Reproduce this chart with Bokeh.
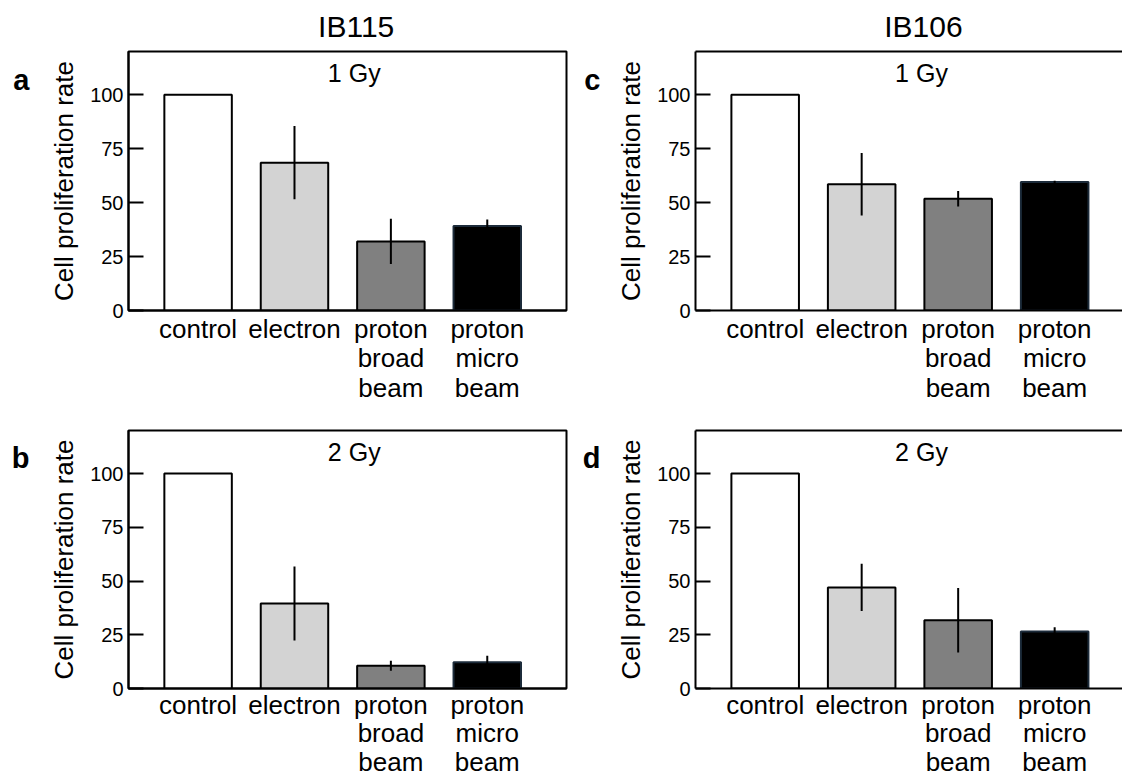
from bokeh.plotting import figure
from bokeh.models import Range1d, FixedTicker, LinearAxis, Label, ColumnDataSource
from bokeh.layouts import column, row
from bokeh.embed import file_html
from bokeh.resources import INLINE

# ---- data ----
positions = [1, 2, 3, 4]
categories = ["control", "electron", "proton\nbroad\nbeam", "proton\nmicro\nbeam"]
bar_colors = ["#ffffff", "#d3d3d3", "#808080", "#000000"]
bar_edges = ["#000000", "#000000", "#000000", "#1c2b3a"]
y_ticks = [0, 25, 50, 75, 100]

ib115_1gy = [100, 68.5, 32.0, 39.2]
ib115_1gy_err = [0, 17.0, 10.5, 3.0]
ib115_2gy = [100, 39.5, 10.6, 12.2]
ib115_2gy_err = [0, 17.2, 2.3, 3.0]
ib106_1gy = [100, 58.5, 51.8, 59.5]
ib106_1gy_err = [0, 14.5, 3.6, 0.6]
ib106_2gy = [100, 47.0, 31.8, 26.5]
ib106_2gy_err = [0, 11.0, 15.0, 2.0]

FONT = "Liberation Sans"
X0 = 0.278
X1_LEFT = 4.822
X1_RIGHT = 4.703
TITLE_X = 2.64
LETTER_Y = 107
DOSE_Y = 110.2


def bare_axis(**kw):
    ax = LinearAxis(major_tick_in=0, major_tick_out=0,
                    minor_tick_line_color=None, major_tick_line_color=None,
                    major_label_text_font=FONT, major_label_text_color="black",
                    **kw)
    return ax


def panel(vals, errs, dose, letter, title, is_left, is_top):
    p = figure(
        x_range=Range1d(X0, X1_LEFT if is_left else X1_RIGHT),
        y_range=Range1d(0, 120),
        frame_width=438 if is_left else 427,
        frame_height=259 if is_top else 258,
        min_border_left=128 if is_left else 120,
        min_border_right=9 if is_left else 0,
        min_border_top=51 if is_top else 24,
        min_border_bottom=96 if is_top else 90,
        output_backend="svg",
        toolbar_location=None,
    )
    p.xgrid.visible = False
    p.ygrid.visible = False
    if is_left:
        p.outline_line_color = "black"
        p.outline_line_width = 2
        p.outline_line_alpha = 1
    else:
        p.outline_line_color = None

    src = ColumnDataSource(dict(x=positions, top=vals, fill=bar_colors, edge=bar_edges))
    p.vbar(x="x", top="top", width=0.70, fill_color="fill", line_color="edge",
           line_width=2, source=src)

    ex = [x for x, e in zip(positions, errs) if e > 0]
    lo = [v - e for v, e in zip(vals, errs) if e > 0]
    hi = [v + e for v, e in zip(vals, errs) if e > 0]
    p.segment(x0=ex, y0=lo, x1=ex, y1=hi, line_color="black", line_width=2)

    ya = p.left[0]
    ya.ticker = FixedTicker(ticks=y_ticks)
    ya.major_tick_in = 15
    ya.major_tick_out = 0
    ya.major_tick_line_width = 2
    ya.major_tick_line_color = "black"
    ya.minor_tick_line_color = None
    ya.axis_line_width = 2
    ya.axis_line_color = "black"
    ya.major_label_text_font = FONT
    ya.major_label_text_font_size = "20px"
    ya.major_label_text_color = "black"
    ya.major_label_standoff = 5
    ya.axis_label = "Cell proliferation rate"
    ya.axis_label_text_font = FONT
    ya.axis_label_text_font_size = "26px"
    ya.axis_label_text_font_style = "normal"
    ya.axis_label_text_color = "black"
    ya.axis_label_standoff = 8

    xa = p.below[0]
    xa.ticker = FixedTicker(ticks=positions)
    xa.major_label_overrides = {k: v for k, v in zip(positions, categories)}
    xa.major_tick_in = 0
    xa.major_tick_out = 0
    xa.minor_tick_line_color = None
    xa.axis_line_width = 2
    xa.axis_line_color = "black"
    xa.major_label_text_font = FONT
    xa.major_label_text_font_size = "26px"
    xa.major_label_text_color = "black"
    xa.major_label_text_line_height = 0.99 if is_top else 0.96
    xa.major_label_standoff = 3 if is_top else 1

    # panel letter as a tick label of an extra left axis
    la = bare_axis(ticker=FixedTicker(ticks=[LETTER_Y]),
                   major_label_overrides={LETTER_Y: letter},
                   axis_line_color=None,
                   major_label_text_font_size="29px",
                   major_label_text_font_style="bold",
                   major_label_standoff=17 if is_left else 13)
    p.add_layout(la, "left")

    # top border / column title as an extra top axis
    if title or not is_left:
        ta = bare_axis(ticker=FixedTicker(ticks=[TITLE_X] if title else []),
                       major_label_overrides={TITLE_X: title} if title else {},
                       axis_line_color=None if is_left else "black",
                       axis_line_width=2,
                       major_label_text_font_size="30px",
                       major_label_standoff=9)
        p.add_layout(ta, "above")

    p.add_layout(Label(x=2.62, y=DOSE_Y, text=dose, text_align="center",
                       text_baseline="alphabetic", text_font=FONT,
                       text_font_size="25px", text_color="black"))
    return p


pa = panel(ib115_1gy, ib115_1gy_err, "1 Gy", "a", "IB115", True, True)
pb = panel(ib115_2gy, ib115_2gy_err, "2 Gy", "b", None, True, False)
pc = panel(ib106_1gy, ib106_1gy_err, "1 Gy", "c", "IB106", False, True)
pd = panel(ib106_2gy, ib106_2gy_err, "2 Gy", "d", None, False, False)

layout = column(row(pa, pc), row(pb, pd))
open("out.html", "w").write(file_html(layout, INLINE))
